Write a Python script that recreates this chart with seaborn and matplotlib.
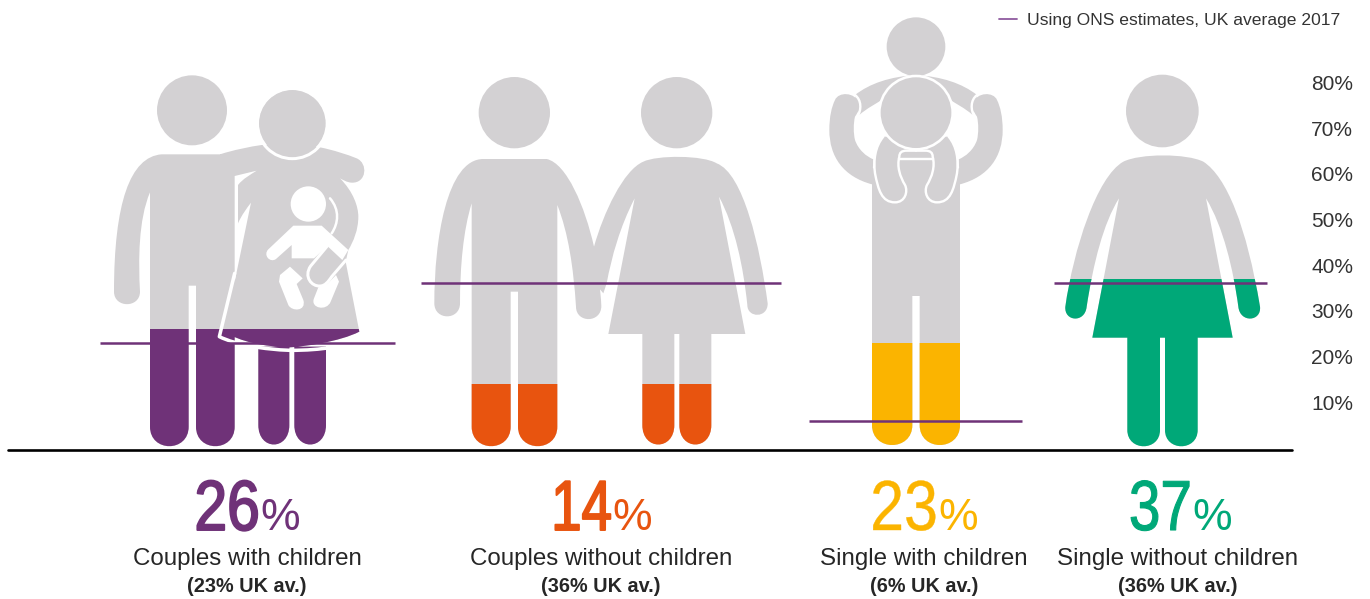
import re

import matplotlib
matplotlib.use("Agg")
import matplotlib.pyplot as plt
import matplotlib.patheffects as pe
import numpy as np
import pandas as pd
import seaborn as sns
from matplotlib.lines import Line2D
from matplotlib.patches import PathPatch
from matplotlib.path import Path
from matplotlib.transforms import Affine2D

# Household shares, percent
households = ["Couples with children", "Couples without children",
              "Single with children", "Single without children"]
shares = [26, 14, 23, 37]
uk_average = [23, 36, 6, 36]
colours = ["#6F3278", "#E8540F", "#FBB400", "#00A878"]
percent_ticks = [10, 20, 30, 40, 50, 60, 70, 80]

# Layout, in figure pixels
WIDTH, HEIGHT = 1370, 599
AXES_RIGHT = 1353
ZERO_Y = 448
PX_PER_PERCENT = 4.57
group_centres = [247, 591, 916, 1163]
label_centres = [247, 601, 924, 1178]
digit_right = [260, 612, 938, 1192]
digit_squeeze = [0.83, 0.77, 0.86, 0.80]
digit_weight = [1.4, 1.4, 0.3, 0.8]
avg_start = [100, 421, 809, 1054]
avg_end = [395, 781, 1022, 1267]

GREY = "#D3D1D3"
AVG_LINE = "#6F3278"
TEXT = "#262626"

sns.set_theme(style="white")
plt.rcParams["font.family"] = ["Liberation Sans", "DejaVu Sans"]

fig = plt.figure(figsize=(WIDTH / 100, HEIGHT / 100), dpi=100, facecolor="white")
ax = fig.add_axes([0, 0, AXES_RIGHT / WIDTH, 1])
to_display = Affine2D().scale(1, -1).translate(0, HEIGHT)


class Condensed(pe.AbstractPathEffect):
    """Draw text squeezed horizontally about a fixed x, with a thin same-colour outline."""

    def __init__(self, anchor_x, factor, weight):
        super().__init__()
        self.squeeze = Affine2D().translate(-anchor_x, 0).scale(factor, 1).translate(anchor_x, 0)
        self.weight = weight

    def draw_path(self, renderer, gc, tpath, affine, rgbFace):
        gc0 = renderer.new_gc()
        gc0.copy_properties(gc)
        gc0.set_linewidth(self.weight)
        gc0.set_foreground(rgbFace)
        renderer.draw_path(gc0, tpath, affine + self.squeeze, rgbFace)
        gc0.restore()


def outline(d, ox, oy, flip=None):
    """Turn an SVG-like string drawn at triple scale into a pixel-space path."""
    verts, codes = [], []
    kinds = {"M": Path.MOVETO, "L": Path.LINETO, "C": Path.CURVE4}
    for cmd, body in re.findall(r"([MLCZ])([^MLCZ]*)", d):
        if cmd == "Z":
            verts.append(verts[-1])
            codes.append(Path.CLOSEPOLY)
            continue
        nums = [float(n) for n in body.split()]
        pts = list(zip(nums[0::2], nums[1::2]))
        for i, pt in enumerate(pts):
            verts.append(pt)
            codes.append(Path.LINETO if cmd == "M" and i else kinds[cmd])
    v = np.array(verts)
    if flip is not None:
        v[:, 0] = 2 * flip - v[:, 0]
    return Path(v / 3 + [ox, oy], codes)


def head(cx, cy, r, ox, oy):
    return Path.circle((cx / 3 + ox, cy / 3 + oy), r / 3)


def merged(paths):
    """Flatten filled outlines into one compound path with a single winding."""
    rings = []
    for p in paths:
        for ring in p.to_polygons():
            x, y = ring[:, 0], ring[:, 1]
            if np.dot(x[:-1], y[1:]) - np.dot(x[1:], y[:-1]) < 0:
                ring = ring[::-1]
            rings.append(Path(ring, closed=True))
    return Path.make_compound_path(*rings)


DRESS = ("M250 485 C300 460 440 460 490 485 C560 530 620 680 660 920 C665 965 600 970 595 920 "
         "C580 810 550 680 498 595 L578 1013 L473 1013 L473 1290 C473 1355 375 1355 375 1290 "
         "L375 1013 L360 1013 L360 1290 C360 1355 262 1355 262 1290 L262 1013 L157 1013 L237 595 "
         "C190 670 160 790 140 920 C135 970 72 965 76 920 C100 750 170 530 250 485 Z")

# Couple with a child in arms
o1 = (90, 60)
family = [
    head(306, 151, 105, *o1),
    head(607, 190, 100, *o1),
    outline("M215 283 L390 283 L434 340 L434 1100 C434 1178 318 1178 318 1100 L318 677 L296 677 "
            "L296 1100 C296 1178 180 1178 180 1100 L180 397 C145 480 145 600 150 695 "
            "C150 745 72 745 72 695 C72 430 120 290 215 283 Z", *o1),
    outline("M390 283 C430 270 480 260 515 255 L690 262 C730 270 770 283 800 295 "
            "C835 310 830 370 785 368 C770 367 760 360 750 355 C790 395 805 440 805 470 "
            "C805 510 790 545 775 570 L767 605 L808 815 C750 845 640 860 600 862 "
            "C520 860 450 845 403 815 L483 428 C470 445 455 465 444 490 L444 375 "
            "C460 355 480 345 500 332 L434 348 L390 340 Z", *o1),
    outline("M505 860 L598 860 L598 1095 C598 1173 505 1173 505 1095 Z", *o1),
    outline("M613 860 L708 860 L708 1095 C708 1173 613 1173 613 1095 Z", *o1),
]

# Couple holding hands
o2 = (410, 60)
couple = [
    head(313, 158, 107, *o2),
    head(800, 158, 107, *o2),
    outline("M220 297 L410 297 C470 310 525 440 552 560 C562 615 572 690 574 738 "
            "C574 790 498 790 498 740 C490 620 475 520 442 435 L442 1100 C442 1178 324 1178 324 1100 "
            "L324 695 L302 695 L302 1100 C302 1178 185 1178 185 1100 L185 430 "
            "C160 510 150 620 150 730 C150 782 73 782 73 730 C73 540 110 297 220 297 Z", *o2),
    outline("M700 305 C740 285 880 285 920 310 C1000 340 1050 560 1073 730 C1074 775 1012 775 1012 735 "
            "C1000 620 975 500 927 410 L1006 822 L904 822 L904 1095 C904 1173 808 1173 808 1095 "
            "L808 822 L793 822 L793 1095 C793 1173 697 1173 697 1095 L697 822 L595 822 L674 415 "
            "C630 500 605 590 590 670 L580 700 L530 640 L552 560 C580 460 640 330 700 305 Z", *o2),
]

# Adult lifting a child overhead
o3 = (800, 0)
LIFT_ARM = ("M216 553 C130 530 88 470 88 390 C88 350 95 320 105 300 C115 275 165 275 178 310 "
            "C180 325 175 335 165 350 C160 370 160 400 165 420 C175 450 200 470 220 478 Z")
CHILD_ARM = "M165 285 C210 250 270 230 348 225 L348 300 L245 300 C230 310 200 325 178 345 Z"
lifted = [
    head(348, 140, 88, *o3),
    head(348, 338, 110, *o3),
    outline("M216 505 L480 505 L480 1275 C480 1355 359 1355 359 1275 L359 888 L337 888 L337 1275 "
            "C337 1355 216 1355 216 1275 Z", *o3),
    outline(LIFT_ARM, *o3),
    outline(LIFT_ARM, *o3, flip=348),
    outline(CHILD_ARM, *o3),
    outline(CHILD_ARM, *o3, flip=348),
    outline("M250 410 L446 410 C471 440 476 480 471 520 L225 520 C220 480 225 440 250 410 Z", *o3),
]

# Single adult
o4 = (1040, 0)
single = [head(367, 333, 109, *o4), outline(DRESS, *o4)]

silhouettes = [merged(s) for s in (family, couple, lifted, single)]
for shape in silhouettes:
    ax.add_patch(PathPatch(shape, facecolor=GREY, edgecolor="none", transform=to_display, zorder=0.5))

# Filled share of each household, cut to its silhouette
frame = pd.DataFrame({"household": households, "share": shares, "centre": group_centres})
sns.barplot(data=frame, x="centre", y="share", hue="household", hue_order=households,
            palette=colours, dodge=False, native_scale=True, width=1, saturation=1,
            errorbar=None, legend=False, linewidth=0, ax=ax)
for bar in ax.patches:
    if isinstance(bar, PathPatch):
        continue
    middle = bar.get_x() + bar.get_width() / 2
    which = int(np.argmin(np.abs(np.array(group_centres) - middle)))
    bar.set_clip_path(silhouettes[which], to_display)
    bar.set_zorder(1)


def white_fill(path):
    ax.add_patch(PathPatch(path, facecolor="white", edgecolor="none", transform=to_display, zorder=2))


def white_line(path, px_width):
    ax.add_patch(PathPatch(path, facecolor="none", edgecolor="white", lw=px_width * 0.72,
                           transform=to_display, zorder=2, capstyle="round", joinstyle="round"))


# Separation between the two adults and the child on the hip
white_line(head(607, 190, 106, *o1), 3)
white_line(outline("M434 640 L388 830 C440 855 520 868 600 871 C650 871 690 868 725 862", *o1), 3.5)
white_fill(head(655, 432, 53, *o1))
white_fill(outline("M610 497 L695 497 L775 570 L757 600 L712 558 L672 595 L605 595 L605 555 "
                   "L558 597 C540 610 518 585 535 568 Z", *o1))
white_fill(outline("M600 620 L638 655 L620 672 L640 720 C650 755 605 755 595 735 L567 665 L570 645 Z", *o1))
white_fill(outline("M685 682 L712 672 L738 645 L747 665 L722 725 C710 755 660 745 672 715 Z", *o1))
white_line(outline("M712 558 L662 618 C640 650 665 680 690 678 C705 678 715 665 725 650 L768 600", *o1), 3)
white_line(outline("M720 415 C750 450 745 490 725 520", *o1), 2.5)

# Outline of the lifted child
white_line(head(348, 338, 110, *o3), 2.6)
CHILD_LEG = ("M250 410 C225 440 220 480 225 520 C235 570 245 607 285 607 C315 607 325 575 315 555 "
             "C300 530 290 500 298 470 C298 458 305 452 320 452 L348 452")
white_line(outline(CHILD_LEG, *o3), 2.4)
white_line(outline(CHILD_LEG, *o3, flip=348), 2.4)
white_line(outline("M298 478 L398 478", *o3), 2.4)
white_line(outline("M165 285 C185 300 185 330 172 350", *o3), 2.4)
white_line(outline("M165 285 C185 300 185 330 172 350", *o3, flip=348), 2.4)

# UK average markers and baseline
ax.hlines(uk_average, avg_start, avg_end, color=AVG_LINE, lw=1.8, zorder=3)
ax.add_line(Line2D([8, 1292], [450, 450], color="black", lw=1.9, transform=to_display, zorder=3))

# Axes
ax.set_xlim(0, AXES_RIGHT)
ax.set_ylim((ZERO_Y - HEIGHT) / PX_PER_PERCENT, ZERO_Y / PX_PER_PERCENT)
ax.set_xticks([])
ax.set_yticks(percent_ticks, [f"{t}%" for t in percent_ticks])
ax.set_xlabel("")
ax.set_ylabel("")
ax.yaxis.tick_right()
ax.tick_params(axis="y", length=0, pad=0, labelsize=15, labelcolor="#333333")
plt.setp(ax.get_yticklabels(), ha="right")
sns.despine(ax=ax, left=True, bottom=True)
ax.patch.set_visible(False)

# Headline figures and captions
for i, name in enumerate(households):
    ax.text(digit_right[i], 530, str(shares[i]), transform=to_display, ha="right", va="baseline",
            fontsize=51, color=colours[i],
            path_effects=[Condensed(digit_right[i], digit_squeeze[i], digit_weight[i])])
    ax.text(digit_right[i], 530, "%", transform=to_display, ha="left", va="baseline",
            fontsize=32, color=colours[i])
    ax.text(label_centres[i], 565, name, transform=to_display, ha="center", va="baseline",
            fontsize=17.4, color=TEXT)
    ax.text(label_centres[i], 592, f"({uk_average[i]}% UK av.)", transform=to_display, ha="center",
            va="baseline", fontsize=14.3, fontweight="bold", color=TEXT)

# Key for the average line
handle = Line2D([], [], color="#8F5A9F", lw=1.3)
ax.legend([handle], ["Using ONS estimates, UK average 2017"], loc="center right",
          bbox_to_anchor=(1340, 20), bbox_transform=to_display, frameon=False, fontsize=12.6,
          labelcolor="#333333", handlelength=1.05, handletextpad=0.55, borderpad=0, borderaxespad=0)

fig.savefig("out.png", dpi=100, facecolor="white")
